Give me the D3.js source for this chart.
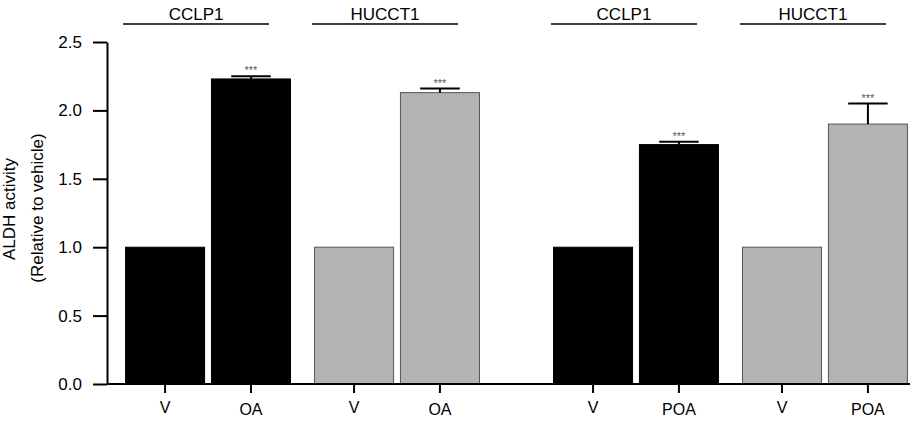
<!DOCTYPE html>
<html>
<head>
<meta charset="utf-8">
<script src="https://cdn.jsdelivr.net/npm/d3@7"></script>
<style>
  body { margin: 0; background: #fff; }
  text { font-family: "Liberation Sans", Arial, sans-serif; }
</style>
</head>
<body>
<div id="chart"></div>
<script>
const WIDTH = 913;
const HEIGHT = 427;

// data
const treatments = ["OA", "POA"];
const cellLines = ["CCLP1", "HUCCT1"];
const conditions = ["V", "T"];            // vehicle / treated
const vehicleMeans = [1.0, 1.0, 1.0, 1.0];
const treatedMeans = [2.23, 2.13, 1.75, 1.90];
const treatedErrors = [0.02, 0.03, 0.02, 0.15];
const yTicks = [0, 0.5, 1.0, 1.5, 2.0, 2.5];
const sigLabel = "***";

const colors = {CCLP1: "#000000", HUCCT1: "#b3b3b3"};
const strokes = {CCLP1: "#000000", HUCCT1: "#555555"};

// flatten into rows for drawing
let rows = [];
treatments.forEach((t, ti) => {
  cellLines.forEach((c, ci) => {
    let k = ti * 2 + ci;
    rows.push({treat: t, cell: c, cond: "V", label: "V", mean: vehicleMeans[k], err: 0});
    rows.push({treat: t, cell: c, cond: "T", label: t, mean: treatedMeans[k], err: treatedErrors[k]});
  });
});

const svg = d3.select("#chart").append("svg")
  .attr("width", WIDTH)
  .attr("height", HEIGHT);

// nested band scales: treatment half -> cell line -> condition
let xOuter = d3.scaleBand().domain(treatments).range([123, 910]).paddingInner(0.161);
let xMid = d3.scaleBand().domain(cellLines).range([0, xOuter.bandwidth()]).paddingInner(0.1);
let xInner = d3.scaleBand().domain(conditions).range([0, xMid.bandwidth()])
  .paddingInner(0.08).paddingOuter(0.03);
let yScale = d3.scaleLinear().domain([0, 2.5]).range([384, 42]);

function xPos(d) { return xOuter(d.treat) + xMid(d.cell) + xInner(d.cond); }

// bars
svg.selectAll(".bar")
  .data(rows)
  .enter()
  .append("rect")
    .attr("class", "bar")
    .attr("x", d => xPos(d))
    .attr("y", d => yScale(d.mean))
    .attr("width", xInner.bandwidth())
    .attr("height", d => yScale(0) - yScale(d.mean))
    .attr("fill", d => colors[d.cell])
    .attr("stroke", d => strokes[d.cell])
    .attr("stroke-width", 1);

// error bars (upper only)
let treated = rows.filter(d => d.cond === "T");
let bw = xInner.bandwidth();
let eb = svg.selectAll(".err").data(treated).enter().append("g").attr("class", "err");
eb.append("line")
  .attr("x1", d => xPos(d) + bw / 2)
  .attr("x2", d => xPos(d) + bw / 2)
  .attr("y1", d => yScale(d.mean))
  .attr("y2", d => yScale(d.mean + d.err))
  .attr("stroke", "#000").attr("stroke-width", 2);
eb.append("line")
  .attr("x1", d => xPos(d) + bw / 4)
  .attr("x2", d => xPos(d) + bw * 3 / 4)
  .attr("y1", d => yScale(d.mean + d.err))
  .attr("y2", d => yScale(d.mean + d.err))
  .attr("stroke", "#000").attr("stroke-width", 2);
eb.append("text")
  .attr("x", d => xPos(d) + bw / 2)
  .attr("y", d => yScale(d.mean + d.err) - 2)
  .attr("text-anchor", "middle")
  .attr("font-size", 11)
  .attr("fill", "#555")
  .text(sigLabel);

// y axis
let yAxis = svg.append("g")
  .attr("transform", "translate(107,0)")
  .call(d3.axisLeft(yScale).tickValues(yTicks).tickFormat(d3.format(".1f"))
    .tickSize(14).tickSizeOuter(0).tickPadding(11));
yAxis.select(".domain").attr("stroke-width", 2);
yAxis.selectAll(".tick line").attr("stroke-width", 2);
yAxis.selectAll(".tick text").attr("font-size", 17).attr("fill", "#000")
  .style("font-family", "'Liberation Sans', Arial, sans-serif");

// x baseline
svg.append("line")
  .attr("x1", 107).attr("x2", 910)
  .attr("y1", yScale(0)).attr("y2", yScale(0))
  .attr("stroke", "#000").attr("stroke-width", 2);

// x ticks and labels
let xt = svg.selectAll(".xtick").data(rows).enter().append("g").attr("class", "xtick");
xt.append("line")
  .attr("x1", d => xPos(d) + bw / 2)
  .attr("x2", d => xPos(d) + bw / 2)
  .attr("y1", yScale(0))
  .attr("y2", yScale(0) + 9)
  .attr("stroke", "#000").attr("stroke-width", 2);
xt.append("text")
  .attr("x", d => xPos(d) + bw / 2)
  .attr("y", d => d.cond === "V" ? 413 : 415)
  .attr("text-anchor", "middle")
  .attr("font-size", 16)
  .text(d => d.label);

// cell line headers
let groups = [];
treatments.forEach(t => cellLines.forEach(c => groups.push({treat: t, cell: c})));
let hd = svg.selectAll(".hdr").data(groups).enter().append("g").attr("class", "hdr");
function gCenter(d) { return xOuter(d.treat) + xMid(d.cell) + xMid.bandwidth() / 2 - 12; }
hd.append("line")
  .attr("x1", d => gCenter(d) - 73)
  .attr("x2", d => gCenter(d) + 73)
  .attr("y1", 24).attr("y2", 24)
  .attr("stroke", "#000").attr("stroke-width", 1.3);
hd.append("text")
  .attr("x", d => gCenter(d))
  .attr("y", 20)
  .attr("text-anchor", "middle")
  .attr("font-size", 17)
  .text(d => d.cell);

// y label
svg.append("text")
  .attr("transform", "translate(15,209) rotate(-90)")
  .attr("text-anchor", "middle")
  .attr("font-size", 17)
  .text("ALDH activity");
svg.append("text")
  .attr("transform", "translate(43,208) rotate(-90)")
  .attr("text-anchor", "middle")
  .attr("font-size", 17)
  .text("(Relative to vehicle)");
</script>
</body>
</html>
